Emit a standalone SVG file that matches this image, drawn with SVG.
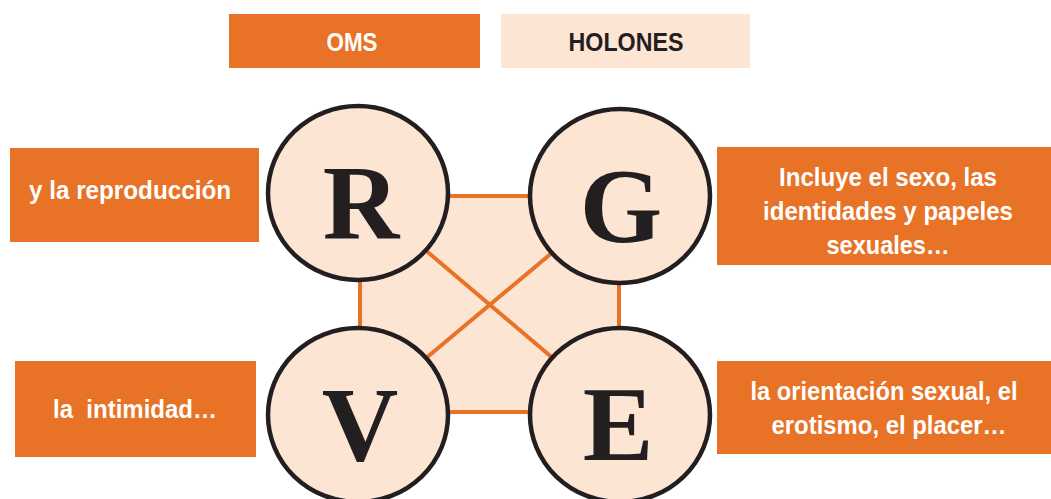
<svg xmlns="http://www.w3.org/2000/svg" width="1051" height="499" viewBox="0 0 1051 499">
<style>
.obox{fill:#e87226}
.pbox{fill:#fde5d3}
.wt{font-family:"Liberation Sans",Arial,sans-serif;font-weight:bold;fill:#ffffff;font-size:25px;text-anchor:middle}
.dt{font-family:"Liberation Sans",Arial,sans-serif;font-weight:bold;fill:#231f20;font-size:26px;text-anchor:middle}
.circ{fill:#fde5d3;stroke:#231f20;stroke-width:4.5}
.let{font-family:"Liberation Serif","Times New Roman",serif;font-weight:bold;fill:#231f20;font-size:106px;text-anchor:middle}
.con{stroke:#e87226;stroke-width:4;fill:none}
</style>
<rect width="1051" height="499" fill="#ffffff"/>
<g id="oms"><rect class="obox" x="229" y="14" width="251" height="54"/><text class="wt" x="352" y="51" font-size="26" textLength="51" lengthAdjust="spacingAndGlyphs">OMS</text></g>
<g id="holones"><rect class="pbox" x="501" y="14" width="249" height="54"/><text class="dt" x="626" y="51" textLength="115" lengthAdjust="spacingAndGlyphs">HOLONES</text></g>
<g id="connectors">
<rect x="360" y="196" width="259" height="216" fill="#fde5d3" stroke="#e87226" stroke-width="4"/>
<line class="con" x1="358" y1="193" x2="620" y2="415"/>
<line class="con" x1="620" y1="196" x2="358" y2="415"/>
</g>
<g id="nodeR"><ellipse class="circ" cx="358" cy="193" rx="90" ry="87"/><text class="let" x="361" y="238">R</text></g>
<g id="nodeG"><ellipse class="circ" cx="620" cy="196" rx="90" ry="87"/><text class="let" x="621" y="242">G</text></g>
<g id="nodeV"><ellipse class="circ" cx="358" cy="415" rx="90" ry="87"/><text class="let" x="360" y="460">V</text></g>
<g id="nodeE"><ellipse class="circ" cx="620" cy="415" rx="90" ry="87"/><text class="let" x="618" y="460">E</text></g>
<g id="boxR"><rect class="obox" x="10" y="148" width="249" height="94"/><text class="wt" x="130" y="199" font-size="26" textLength="202" lengthAdjust="spacingAndGlyphs">y la reproducción</text></g>
<g id="boxG"><rect class="obox" x="717" y="147" width="334" height="118"/>
<text class="wt" x="888" y="186" textLength="218" lengthAdjust="spacingAndGlyphs">Incluye el sexo, las</text>
<text class="wt" x="888" y="220" textLength="250" lengthAdjust="spacingAndGlyphs">identidades y papeles</text>
<text class="wt" x="888" y="254" textLength="123" lengthAdjust="spacingAndGlyphs">sexuales…</text></g>
<g id="boxV"><rect class="obox" x="15" y="361" width="241" height="96"/><text class="wt" x="135" y="418" font-size="26" xml:space="preserve" textLength="164" lengthAdjust="spacingAndGlyphs">la  intimidad…</text></g>
<g id="boxE"><rect class="obox" x="717" y="361" width="334" height="93"/>
<text class="wt" x="884" y="400" textLength="267" lengthAdjust="spacingAndGlyphs">la orientación sexual, el</text>
<text class="wt" x="889" y="434" textLength="235" lengthAdjust="spacingAndGlyphs">erotismo, el placer…</text></g>
</svg>
